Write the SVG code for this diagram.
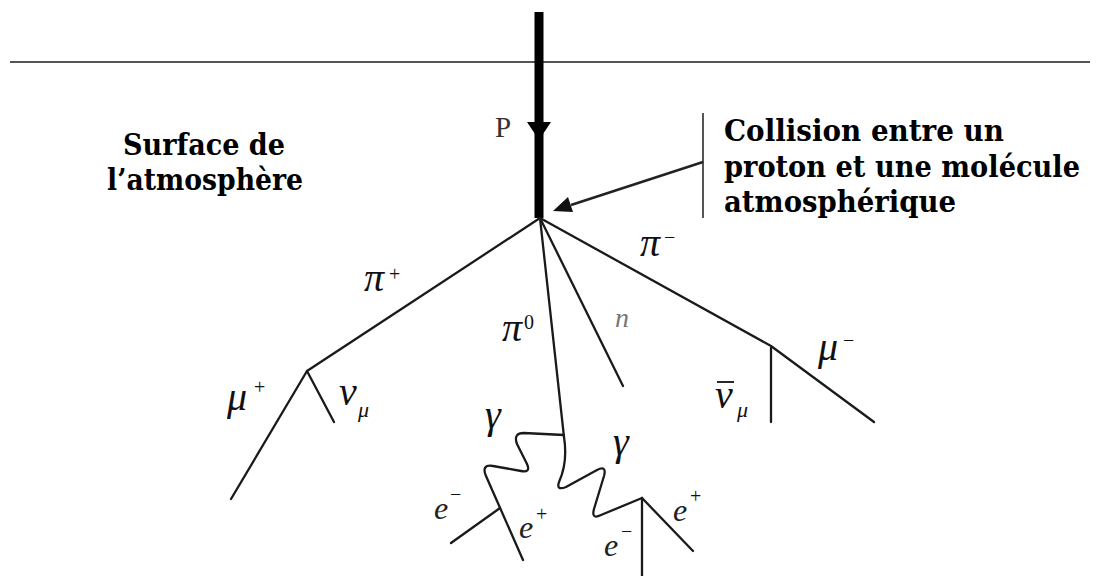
<svg xmlns="http://www.w3.org/2000/svg" width="1096" height="576" viewBox="0 0 1096 576">
<style>
.ln{stroke:#1a1a1a;stroke-width:2.3;fill:none;stroke-linecap:round;stroke-linejoin:round}
.gr{stroke:#555;stroke-width:2;fill:none}
.sym{font-family:"Liberation Serif",serif;font-style:italic;font-size:40px;fill:#111}
.ee{font-family:"Liberation Serif",serif;font-style:italic;font-size:32px;fill:#222}
.sup{font-family:"Liberation Serif",serif;font-size:20px;fill:#111}
.sub{font-family:"Liberation Serif",serif;font-style:italic;font-size:22px;fill:#111}
.bold{font-family:"DejaVu Serif Condensed","DejaVu Serif",serif;font-weight:bold;font-size:29px;fill:#000}
</style>
<rect width="1096" height="576" fill="#fff"/>
<g id="surface-line"><line class="gr" x1="10" y1="62" x2="1090" y2="62"/></g>
<g id="proton">
<line x1="539" y1="12" x2="539" y2="218" stroke="#000" stroke-width="9"/>
<polygon points="527,122 551,122 539,140" fill="#000"/>
<text x="495" y="137" font-family="Liberation Serif, serif" font-size="29" fill="#333">P</text>
</g>
<g id="label-surface">
<text class="bold" x="123" y="155" textLength="162" lengthAdjust="spacingAndGlyphs">Surface de</text>
<text class="bold" x="107" y="190" textLength="196" lengthAdjust="spacingAndGlyphs">l’atmosphère</text>
</g>
<g id="label-collision">
<line class="gr" x1="703" y1="113" x2="703" y2="218"/>
<text class="bold" x="724" y="141" textLength="280" lengthAdjust="spacingAndGlyphs">Collision entre un</text>
<text class="bold" x="724" y="177" textLength="356" lengthAdjust="spacingAndGlyphs">proton et une molécule</text>
<text class="bold" x="724" y="212" textLength="232" lengthAdjust="spacingAndGlyphs">atmosphérique</text>
</g>
<g id="connectors">
<line x1="703" y1="162" x2="571" y2="205" stroke="#222" stroke-width="2.5"/>
<polygon points="553,211 568,197 573,212" fill="#111"/>
<polyline class="ln" points="540,218 307,371 231,499"/>
<line class="ln" x1="307" y1="371" x2="334" y2="422"/>
<line class="ln" x1="540" y1="218" x2="564" y2="437"/>
<line class="ln" x1="540" y1="218" x2="623" y2="386"/>
<polyline class="ln" points="540,218 771,346 874,422"/>
<line class="ln" x1="771" y1="348" x2="771" y2="422"/>
<path class="ln" d="M564,435 L524,433 Q513,433 517,444 L527,464 Q531,473 521,471 L493,466 Q481,464 486,476 L523,560"/>
<line class="ln" x1="500" y1="508" x2="451" y2="543"/>
<path class="ln" d="M564,437 Q568,462 559,482 Q556,491 566,487 L597,470 Q607,465 604,476 L594,509 Q591,520 601,515 L642,498"/>
<line class="ln" x1="642" y1="498" x2="642" y2="576"/>
<line class="ln" x1="642" y1="498" x2="693" y2="551"/>
</g>
<g id="pi-plus"><text class="sym" x="364" y="291">π</text><text class="sup" x="389" y="281">+</text></g>
<g id="pi-zero"><text class="sym" x="502" y="341">π</text><text class="sup" x="524" y="329">0</text></g>
<g id="neutron"><text class="sym" x="615" y="327" style="fill:#777;font-size:28px">n</text></g>
<g id="pi-minus"><text class="sym" x="640" y="256">π</text><text class="sup" x="664" y="244">−</text></g>
<g id="mu-minus"><text class="sym" x="818" y="360">μ</text><text class="sup" x="843" y="347">−</text></g>
<g id="antinu-mu"><text class="sym" x="715" y="408">ν</text><line x1="717" y1="382" x2="734" y2="382" stroke="#111" stroke-width="1.8"/><text class="sub" x="737" y="417">μ</text></g>
<g id="mu-plus"><text class="sym" x="227" y="410">μ</text><text class="sup" x="254" y="394">+</text></g>
<g id="nu-mu"><text class="sym" x="339" y="405">ν</text><text class="sub" x="358" y="417">μ</text></g>
<g id="gamma-1"><text class="sym" x="485" y="428">γ</text></g>
<g id="gamma-2"><text class="sym" x="613" y="455">γ</text></g>
<g id="e-minus-1"><text class="ee" x="434" y="519">e</text><text class="sup" x="450" y="501">−</text></g>
<g id="e-plus-1"><text class="ee" x="519" y="538">e</text><text class="sup" x="536" y="521">+</text></g>
<g id="e-minus-2"><text class="ee" x="604" y="556">e</text><text class="sup" x="621" y="538">−</text></g>
<g id="e-plus-2"><text class="ee" x="673" y="521">e</text><text class="sup" x="690" y="503">+</text></g>
</svg>
